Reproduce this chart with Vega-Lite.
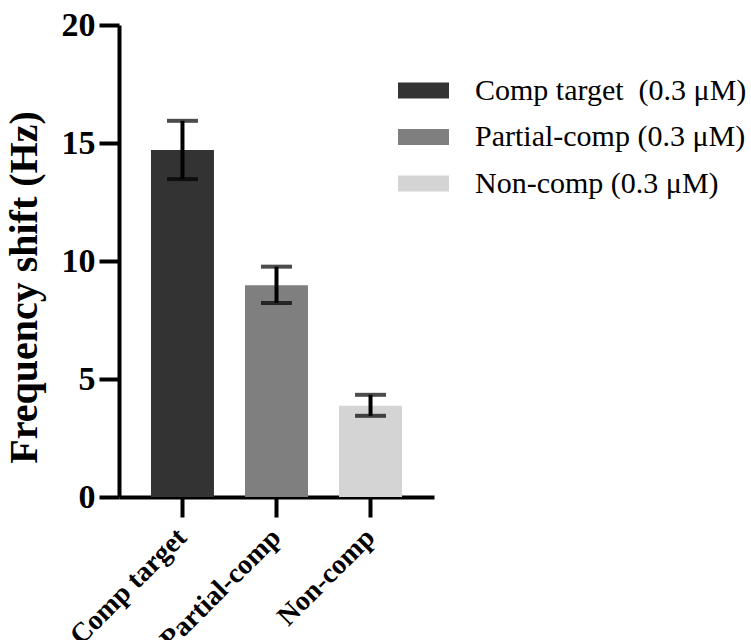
{
  "$schema": "https://vega.github.io/schema/vega-lite/v6.json",
  "autosize": "none",
  "width": 315,
  "height": 472,
  "padding": {"left": 119, "top": 25, "right": 317, "bottom": 143},
  "background": "white",
  "data": {
    "values": [
      {"group": "Comp target", "legend": "Comp target\u00a0 (0.3 μM)", "mean": 14.7, "lo": 13.47, "hi": 15.94},
      {"group": "Partial-comp", "legend": "Partial-comp (0.3 μM)", "mean": 8.97, "lo": 8.22, "hi": 9.76},
      {"group": "Non-comp", "legend": "Non-comp (0.3 μM)", "mean": 3.87, "lo": 3.44, "hi": 4.33}
    ]
  },
  "config": {
    "view": {"stroke": null},
    "font": "Liberation Serif",
    "axis": {
      "grid": false,
      "domainColor": "black",
      "domainWidth": 4,
      "tickColor": "black",
      "tickWidth": 4,
      "tickSize": 20,
      "labelColor": "black",
      "labelFont": "Liberation Serif",
      "labelFontWeight": "bold",
      "titleFont": "Liberation Serif",
      "titleColor": "black",
      "titleFontWeight": "bold"
    },
    "axisY": {
      "labelFontSize": 34,
      "labelPadding": 4,
      "titleFontSize": 40,
      "titlePadding": 17
    },
    "axisX": {
      "labelFontSize": 28,
      "labelPadding": 16,
      "labelAngle": -45,
      "labelAlign": "right",
      "labelBaseline": "middle"
    }
  },
  "encoding": {
    "x": {
      "field": "group",
      "type": "nominal",
      "sort": ["Comp target", "Partial-comp", "Non-comp"],
      "scale": {"paddingInner": 0.33, "paddingOuter": 0.34},
      "axis": {"title": null, "labelAngle": -45}
    }
  },
  "layer": [
    {
      "mark": {"type": "bar"},
      "encoding": {
        "y": {
          "field": "mean",
          "type": "quantitative",
          "scale": {"domain": [0, 20], "nice": false},
          "axis": {
            "title": "Frequency shift (Hz)",
            "titleY": 262,
            "values": [0, 5, 10, 15, 20]
          }
        },
        "color": {
          "field": "legend",
          "type": "nominal",
          "scale": {
            "domain": ["Comp target\u00a0 (0.3 μM)", "Partial-comp (0.3 μM)", "Non-comp (0.3 μM)"],
            "range": ["#333333", "#7f7f7f", "#d4d4d4"]
          },
          "legend": {
            "title": null,
            "orient": "none",
            "legendX": 279,
            "legendY": 40,
            "symbolType": "M-1,-0.31H1V0.31H-1Z",
            "symbolSize": 2601,
            "symbolStrokeWidth": 0,
            "labelFont": "Liberation Serif",
            "labelFontSize": 30,
            "labelColor": "black",
            "labelOffset": 26,
            "rowPadding": 5.5,
            "labelLimit": 400
          }
        }
      }
    },
    {
      "mark": {"type": "rule", "color": "black", "strokeWidth": 4},
      "encoding": {
        "y": {"field": "lo", "type": "quantitative"},
        "y2": {"field": "hi"}
      }
    },
    {
      "mark": {"type": "tick", "color": "black", "size": 31, "thickness": 4},
      "encoding": {"y": {"field": "lo", "type": "quantitative"}}
    },
    {
      "mark": {"type": "tick", "color": "black", "size": 31, "thickness": 4},
      "encoding": {"y": {"field": "hi", "type": "quantitative"}}
    }
  ]
}
